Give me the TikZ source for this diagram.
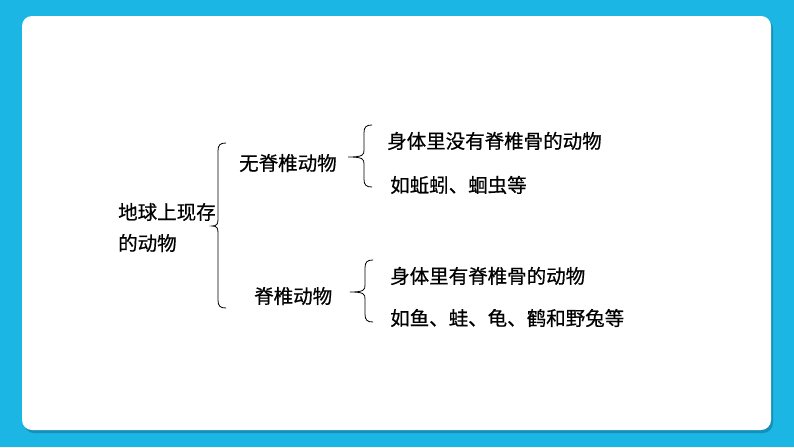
\documentclass[tikz,border=0pt]{standalone}
\usepackage{fontspec}
\setmainfont{Noto Sans CJK SC}[UprightFeatures={FakeBold=0.6}]
\definecolor{bg}{HTML}{1BB6E3}
\definecolor{shadowc}{HTML}{1690B8}
\newcommand\mybrace[5]{% x, top y, bottom y, tip x, tip y
  \draw[bracestyle] (#1+8,#2) .. controls (#1+2,#2) and (#1,#2+2) .. (#1,#2+8)
    -- (#1,#5-7) .. controls (#1,#5-2) and (#1-1,#5) .. (#4,#5)
    .. controls (#1-1,#5) and (#1,#5+2) .. (#1,#5+7)
    -- (#1,#3-8) .. controls (#1,#3-2) and (#1+2,#3) .. (#1+8,#3);}
\begin{document}
\begin{tikzpicture}[x=1pt,y=-1pt,
  txt/.style={inner sep=0pt, anchor=west, font=\fontsize{19.5}{19.5}\selectfont},
  bracestyle/.style={draw=black, line width=0.8pt}]
\useasboundingbox (0,0) rectangle (794,447);
\fill[bg] (0,0) rectangle (794,447);
\fill[shadowc, rounded corners=10pt] (24,19) rectangle (773,433);
\fill[white, rounded corners=10pt] (22,16) rectangle (771,430);
% texts
\node[txt] (root1) at (118,212) {地球上现存};
\node[txt] (root2) at (118,243) {的动物};
\node[txt] (inv) at (239,163) {无脊椎动物};
\node[txt] (ver) at (254,296) {脊椎动物};
\node[txt] (inv1) at (387,141) {身体里没有脊椎骨的动物};
\node[txt] (inv2) at (390,185) {如蚯蚓、蛔虫等};
\node[txt] (ver1) at (390,276) {身体里有脊椎骨的动物};
\node[txt] (ver2) at (390,318) {如鱼、蛙、龟、鹤和野兔等};
% braces
\mybrace{218}{143}{308}{212}{226}
\mybrace{364}{125}{187}{348}{157}
\mybrace{365}{260}{322}{350}{292}
\end{tikzpicture}
\end{document}
